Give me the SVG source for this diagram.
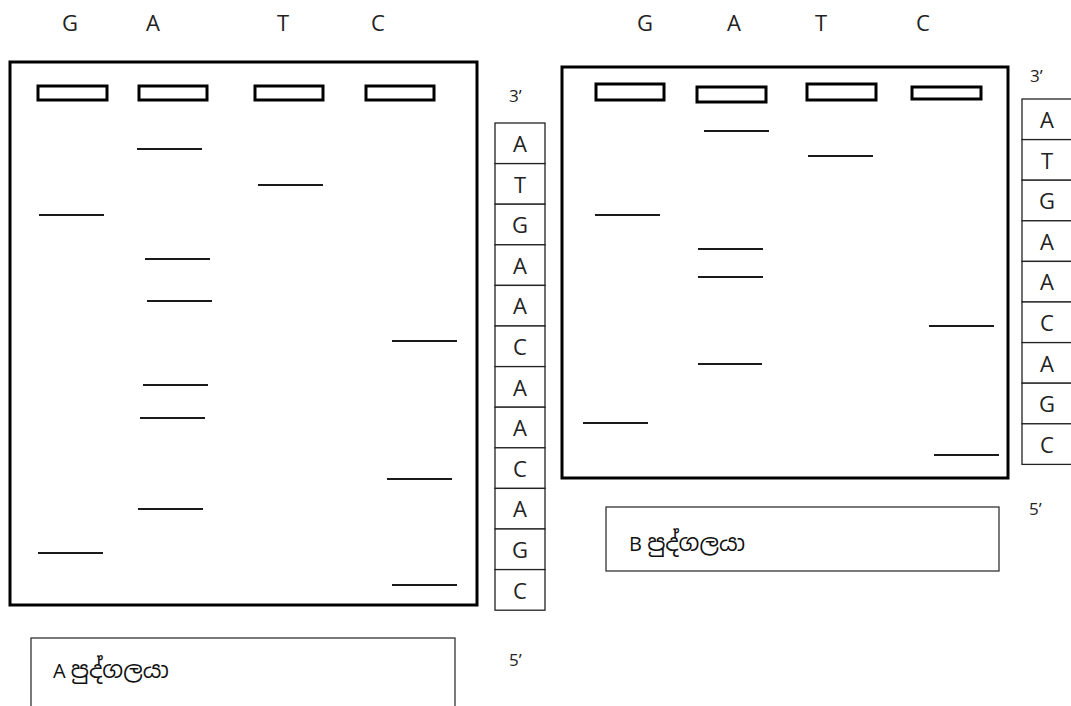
<svg xmlns="http://www.w3.org/2000/svg" width="1071" height="706" viewBox="0 0 1071 706">
<style>
.gel{fill:none;stroke:#000;stroke-width:3}
.well{fill:#fff;stroke:#000;stroke-width:3}
.band{stroke:#1a1a1a;stroke-width:2}
.cell{fill:#fff;stroke:#222;stroke-width:1.3}
.lbox{fill:#fff;stroke:#333;stroke-width:1.3}
.t{font-family:"Open Sans","Liberation Sans",sans-serif;font-size:22px;fill:#222;text-anchor:middle}
.s{font-family:"Open Sans","Liberation Sans",sans-serif;font-size:17px;fill:#222}
.lab{font-family:"Open Sans","Noto Sans Sinhala","Noto Sans","DejaVu Sans",sans-serif;font-size:20px;fill:#111}
.si{font-size:23px}
</style>
<rect width="1071" height="706" fill="#fff"/>

<g id="gelA">
  <g id="laneLabelsA">
    <text class="t" x="70" y="31">G</text>
    <text class="t" x="153" y="31">A</text>
    <text class="t" x="283" y="31">T</text>
    <text class="t" x="378" y="31">C</text>
  </g>
  <rect class="gel" x="10" y="62" width="467" height="543"/>
  <rect class="well" x="38" y="86" width="69" height="14"/>
  <rect class="well" x="139" y="86" width="68" height="14"/>
  <rect class="well" x="255" y="86" width="68" height="14"/>
  <rect class="well" x="366" y="86" width="68" height="14"/>
  <g id="bandsA">
    <line class="band" x1="137" y1="149" x2="202" y2="149"/>
    <line class="band" x1="258" y1="185" x2="323" y2="185"/>
    <line class="band" x1="39" y1="215" x2="104" y2="215"/>
    <line class="band" x1="145" y1="259" x2="210" y2="259"/>
    <line class="band" x1="147" y1="301" x2="212" y2="301"/>
    <line class="band" x1="392" y1="341" x2="457" y2="341"/>
    <line class="band" x1="143" y1="385" x2="208" y2="385"/>
    <line class="band" x1="140" y1="418" x2="205" y2="418"/>
    <line class="band" x1="387" y1="479" x2="452" y2="479"/>
    <line class="band" x1="138" y1="509" x2="203" y2="509"/>
    <line class="band" x1="38" y1="553" x2="103" y2="553"/>
    <line class="band" x1="392" y1="585" x2="457" y2="585"/>
  </g>
</g>

<g id="seqA">
  <text class="s" x="509" y="102">3’</text>
  <rect class="cell" x="495" y="123" width="50" height="40.6"/>
  <rect class="cell" x="495" y="163.6" width="50" height="40.6"/>
  <rect class="cell" x="495" y="204.2" width="50" height="40.6"/>
  <rect class="cell" x="495" y="244.8" width="50" height="40.6"/>
  <rect class="cell" x="495" y="285.4" width="50" height="40.6"/>
  <rect class="cell" x="495" y="326" width="50" height="40.6"/>
  <rect class="cell" x="495" y="366.6" width="50" height="40.6"/>
  <rect class="cell" x="495" y="407.2" width="50" height="40.6"/>
  <rect class="cell" x="495" y="447.8" width="50" height="40.6"/>
  <rect class="cell" x="495" y="488.4" width="50" height="40.6"/>
  <rect class="cell" x="495" y="529" width="50" height="40.6"/>
  <rect class="cell" x="495" y="569.6" width="50" height="40.6"/>
  <text class="t" x="520" y="152">A</text>
  <text class="t" x="520" y="192.6">T</text>
  <text class="t" x="520" y="233.2">G</text>
  <text class="t" x="520" y="273.8">A</text>
  <text class="t" x="520" y="314.4">A</text>
  <text class="t" x="520" y="355">C</text>
  <text class="t" x="520" y="395.6">A</text>
  <text class="t" x="520" y="436.2">A</text>
  <text class="t" x="520" y="476.8">C</text>
  <text class="t" x="520" y="517.4">A</text>
  <text class="t" x="520" y="558">G</text>
  <text class="t" x="520" y="598.6">C</text>
  <text class="s" x="509" y="666">5’</text>
</g>

<g id="labelA">
  <rect class="lbox" x="31" y="638" width="424" height="80"/>
  <text class="lab" x="53" y="678">A <tspan class="si">පුද්ගලයා</tspan></text>
</g>

<g id="gelB">
  <g id="laneLabelsB">
    <text class="t" x="645" y="31">G</text>
    <text class="t" x="734" y="31">A</text>
    <text class="t" x="821" y="31">T</text>
    <text class="t" x="923" y="31">C</text>
  </g>
  <rect class="gel" x="562" y="67" width="446" height="411"/>
  <rect class="well" x="596" y="84" width="68" height="16"/>
  <rect class="well" x="697" y="87" width="69" height="15"/>
  <rect class="well" x="807" y="84" width="69" height="16"/>
  <rect class="well" x="912" y="87" width="69" height="12"/>
  <g id="bandsB">
    <line class="band" x1="704" y1="131" x2="769" y2="131"/>
    <line class="band" x1="808" y1="156" x2="873" y2="156"/>
    <line class="band" x1="595" y1="215" x2="660" y2="215"/>
    <line class="band" x1="698" y1="249" x2="763" y2="249"/>
    <line class="band" x1="698" y1="277" x2="763" y2="277"/>
    <line class="band" x1="929" y1="326" x2="994" y2="326"/>
    <line class="band" x1="698" y1="364" x2="762" y2="364"/>
    <line class="band" x1="583" y1="423" x2="648" y2="423"/>
    <line class="band" x1="934" y1="455" x2="999" y2="455"/>
  </g>
</g>

<g id="seqB">
  <text class="s" x="1030" y="82">3’</text>
  <rect class="cell" x="1022" y="99" width="60" height="40.6"/>
  <rect class="cell" x="1022" y="139.6" width="60" height="40.6"/>
  <rect class="cell" x="1022" y="180.2" width="60" height="40.6"/>
  <rect class="cell" x="1022" y="220.8" width="60" height="40.6"/>
  <rect class="cell" x="1022" y="261.4" width="60" height="40.6"/>
  <rect class="cell" x="1022" y="302" width="60" height="40.6"/>
  <rect class="cell" x="1022" y="342.6" width="60" height="40.6"/>
  <rect class="cell" x="1022" y="383.2" width="60" height="40.6"/>
  <rect class="cell" x="1022" y="423.8" width="60" height="40.6"/>
  <text class="t" x="1047" y="128">A</text>
  <text class="t" x="1047" y="168.6">T</text>
  <text class="t" x="1047" y="209.2">G</text>
  <text class="t" x="1047" y="249.8">A</text>
  <text class="t" x="1047" y="290.4">A</text>
  <text class="t" x="1047" y="331">C</text>
  <text class="t" x="1047" y="371.6">A</text>
  <text class="t" x="1047" y="412.2">G</text>
  <text class="t" x="1047" y="452.8">C</text>
  <text class="s" x="1029" y="515">5’</text>
</g>

<g id="labelB">
  <rect class="lbox" x="606" y="507" width="393" height="64"/>
  <text class="lab" x="629" y="551">B <tspan class="si">පුද්ගලයා</tspan></text>
</g>
</svg>
